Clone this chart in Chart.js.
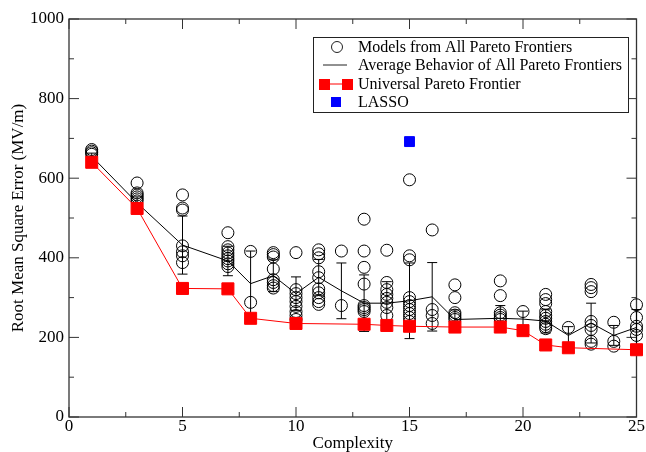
<!DOCTYPE html>
<html lang="en">
<head>
<meta charset="UTF-8">
<title>RMSE vs Complexity</title>
<script src="https://cdn.jsdelivr.net/npm/chart.js"></script>
<style>
  body { margin: 0; background: #fff; }
  #wrap { width: 646px; height: 452px; }
</style>
</head>
<body>
<div id="wrap"><canvas id="chart" width="646" height="452"></canvas></div>
<script>
// models from all pareto frontiers (open circles)
const modelX = [
  1,1,1,1,
  3,3,3,3,3,3,
  5,5,5,5,5,5,5,
  7,7,7,7,7,7,7,7,7,
  8,8,
  9,9,9,9,9,9,9,9,
  10,10,10,10,10,10,10,10,10,
  11,11,11,11,11,11,11,11,11,11,
  12,12,
  13,13,13,13,13,13,13,13,
  14,14,14,14,14,14,14,14,
  15,15,15,15,15,15,15,15,15,15,
  16,16,16,16,
  17,17,17,17,17,17,
  19,19,19,19,19,19,
  20,
  21,21,21,21,21,21,21,21,21,21,
  22,
  23,23,23,23,23,23,23,23,
  24,24,24,
  25,25,25,25,25
];
const modelY = [
  672,668,664,660,
  588,563,558,553,548,543,
  558,525,520,430,415,405,388,
  463,428,420,412,405,398,392,385,378,
  416,288,
  413,408,402,372,345,338,330,324,
  413,320,310,300,290,278,265,255,245,
  420,410,400,365,350,322,312,300,290,283,
  417,280,
  497,417,376,334,280,275,270,265,
  419,338,320,308,298,288,275,255,
  596,405,395,300,290,280,270,260,250,240,
  470,270,255,235,
  332,300,262,256,250,245,
  342,305,262,256,250,245,
  265,
  308,295,285,265,255,248,240,233,227,222,
  225,
  333,325,315,240,230,220,190,183,
  238,190,178,
  282,250,228,220,205
];

// average behaviour with spread
const avgX   = [1,3,5,7,8,9,10,11,12,13,14,15,16,17,19,20,21,22,23,24,25];
const avgY   = [655,538,432,392,335,355,310,351,317,286,286,292,302,245,248,246,241,205,236,205,225];
const avgErr = [8,15,73,37,82,40,42,45,70,71,54,95,86,24,32,20,30,22,50,25,45];

// universal pareto frontier
const upfX = [1,3,5,7,8,10,13,14,15,17,19,20,21,22,25];
const upfY = [640,524,323,322,248,235,233,230,228,226,226,217,181,174,169];

// lasso
const lassoX = [15];
const lassoY = [692];

const xTicks = [0,5,10,15,20,25];
const yTicks = [0,200,400,600,800,1000];

const pts = (xs, ys) => xs.map((x, i) => ({ x: x, y: ys[i] }));
const serif = "'Liberation Serif', 'Times New Roman', serif";
Chart.defaults.font.family = serif;
Chart.defaults.color = '#000';

// error bars drawn under the markers
const errorBars = {
  id: 'errorBars',
  beforeDatasetsDraw(chart) {
    const { ctx, scales: { x, y } } = chart;
    ctx.save();
    ctx.strokeStyle = '#000';
    ctx.lineWidth = 1;
    avgX.forEach((v, i) => {
      const px = x.getPixelForValue(v);
      const top = y.getPixelForValue(avgY[i] + avgErr[i]);
      const bot = y.getPixelForValue(avgY[i] - avgErr[i]);
      ctx.beginPath();
      ctx.moveTo(px, top); ctx.lineTo(px, bot);
      ctx.moveTo(px - 5, top); ctx.lineTo(px + 5, top);
      ctx.moveTo(px - 5, bot); ctx.lineTo(px + 5, bot);
      ctx.stroke();
    });
    ctx.restore();
  }
};

// frame with inward ticks
const frame = {
  id: 'frame',
  beforeDatasetsDraw(chart) {
    const { ctx, chartArea: a, scales: { x, y } } = chart;
    ctx.save();
    ctx.strokeStyle = '#333';
    ctx.lineWidth = 1.3;
    ctx.strokeRect(a.left, a.top, a.right - a.left, a.bottom - a.top);
    ctx.lineWidth = 1;
    ctx.beginPath();
    for (let v = 0; v <= 25; v += 2.5) {
      const px = x.getPixelForValue(v);
      const len = v % 5 === 0 ? 10 : 5;
      ctx.moveTo(px, a.bottom); ctx.lineTo(px, a.bottom - len);
      ctx.moveTo(px, a.top); ctx.lineTo(px, a.top + len);
    }
    for (let v = 0; v <= 1000; v += 100) {
      const py = y.getPixelForValue(v);
      const len = v % 200 === 0 ? 10 : 5;
      ctx.moveTo(a.left, py); ctx.lineTo(a.left + len, py);
      ctx.moveTo(a.right, py); ctx.lineTo(a.right - len, py);
    }
    ctx.stroke();
    ctx.restore();
  }
};

// boxed legend inside the plot
const boxLegend = {
  id: 'boxLegend',
  afterDraw(chart) {
    const ctx = chart.ctx;
    const bx = 313, by = 37, bw = 315, bh = 75;
    ctx.save();
    ctx.fillStyle = '#fff';
    ctx.fillRect(bx, by, bw, bh);
    ctx.strokeStyle = '#222';
    ctx.lineWidth = 1;
    ctx.strokeRect(bx + 0.5, by + 0.5, bw, bh);
    const rows = [47, 65, 84, 102];
    const labels = ['Models from All Pareto Frontiers', 'Average Behavior of All Pareto Frontiers',
                    'Universal Pareto Frontier', 'LASSO'];
    ctx.fillStyle = '#000';
    ctx.font = '16px ' + serif;
    ctx.textBaseline = 'middle';
    labels.forEach((t, i) => ctx.fillText(t, 358, rows[i] + 1));
    // circle
    ctx.beginPath();
    ctx.arc(337, rows[0], 5.5, 0, Math.PI * 2);
    ctx.stroke();
    // line
    ctx.beginPath();
    ctx.moveTo(323, rows[1]); ctx.lineTo(347, rows[1]);
    ctx.stroke();
    // red line with squares
    ctx.strokeStyle = 'red';
    ctx.beginPath();
    ctx.moveTo(327, rows[2]); ctx.lineTo(348, rows[2]);
    ctx.stroke();
    ctx.fillStyle = 'red';
    ctx.fillRect(319, rows[2] - 5, 11, 11);
    ctx.fillRect(342, rows[2] - 5, 11, 11);
    ctx.fillStyle = '#0000ff';
    ctx.fillRect(331, rows[3] - 5, 10, 10);
    ctx.restore();
  }
};

new Chart(document.getElementById('chart').getContext('2d'), {
  type: 'scatter',
  data: {
    datasets: [
      {
        label: 'Models from All Pareto Frontiers',
        data: pts(modelX, modelY),
        pointStyle: 'circle',
        pointRadius: 6,
        backgroundColor: 'rgba(0,0,0,0)',
        borderColor: '#000',
        borderWidth: 1,
        clip: false,
        order: 4
      },
      {
        label: 'Average Behavior of All Pareto Frontiers',
        data: pts(avgX, avgY),
        showLine: true,
        borderColor: '#000',
        borderWidth: 1,
        pointRadius: 0,
        clip: false,
        order: 3
      },
      {
        label: 'Universal Pareto Frontier',
        data: pts(upfX, upfY),
        showLine: true,
        borderColor: 'red',
        borderWidth: 1,
        pointStyle: 'rect',
        pointRadius: 8.5,
        backgroundColor: 'red',
        pointBorderColor: 'red',
        clip: false,
        order: 2
      },
      {
        label: 'LASSO',
        data: pts(lassoX, lassoY),
        pointStyle: 'rect',
        pointRadius: 7,
        backgroundColor: '#0000ff',
        borderColor: '#0000ff',
        clip: false,
        order: 1
      }
    ]
  },
  options: {
    responsive: false,
    animation: false,
    layout: { padding: { left: 10, right: 9, top: 19, bottom: 0 } },
    plugins: {
      legend: { display: false },
      tooltip: { enabled: false }
    },
    scales: {
      x: {
        type: 'linear',
        min: 0, max: 25,
        afterBuildTicks: s => { s.ticks = xTicks.map(v => ({ value: v })); },
        afterFit: s => { s.height = 35; },
        grid: { display: false, drawTicks: false },
        border: { display: false },
        ticks: { color: '#000', padding: 1, callback: v => String(v),
                 font: { family: serif, size: 17, lineHeight: 1 } },
        title: {
          display: true, text: 'Complexity', color: '#000',
          padding: { top: 0, bottom: 0 },
          font: { family: serif, size: 17, lineHeight: 1 }
        }
      },
      y: {
        type: 'linear',
        min: 0, max: 1000,
        afterBuildTicks: s => { s.ticks = yTicks.map(v => ({ value: v })); },
        afterFit: s => { s.width = 59; },
        grid: { display: false, drawTicks: false },
        border: { display: false },
        ticks: { color: '#000', padding: 5, callback: v => String(v),
                 font: { family: serif, size: 17, lineHeight: 1 } },
        title: {
          display: true, text: 'Root Mean Square Error (MV/m)', color: '#000',
          padding: { top: 0, bottom: 0 },
          font: { family: serif, size: 17, lineHeight: 1 }
        }
      }
    }
  },
  plugins: [frame, errorBars, boxLegend]
});
</script>
</body>
</html>
